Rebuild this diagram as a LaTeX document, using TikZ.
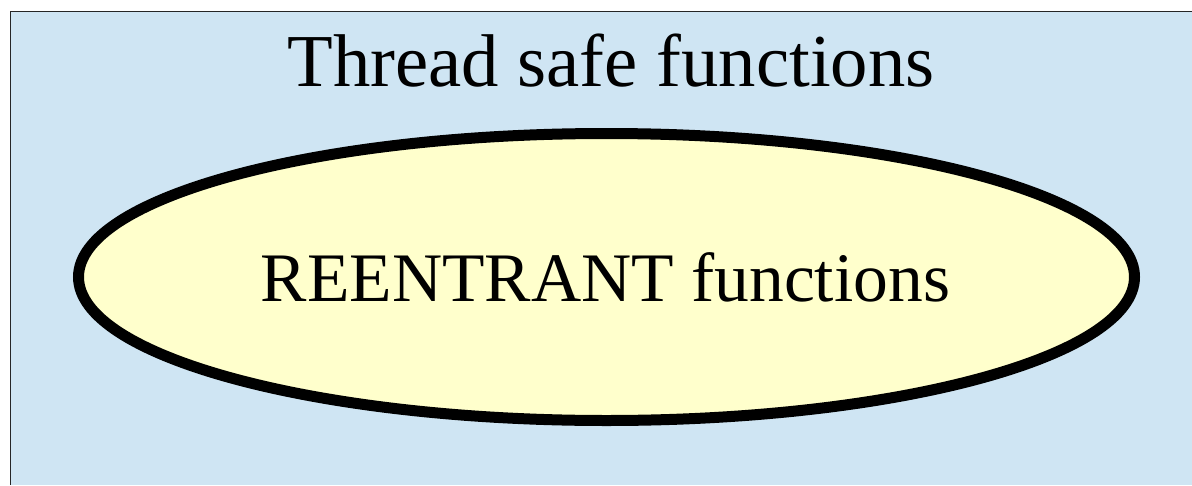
\documentclass[tikz,border=0pt]{standalone}
\usepackage{fontspec}
\setmainfont{Liberation Serif}
\usetikzlibrary{shapes.geometric}
\definecolor{bgblue}{RGB}{207,229,243}
\definecolor{ellyellow}{RGB}{255,255,204}
\tikzset{
  labeltext/.style={anchor=base, inner sep=0pt},
}
\begin{document}
\begin{tikzpicture}[x=1pt,y=-1pt]
\useasboundingbox (0,0) rectangle (1192,485);
\fill[bgblue] (10.5,11.5) rectangle (1192,485);
\draw[line width=1.3pt, black!85] (10.5,485) -- (10.5,11.5) -- (1192,11.5);
\node[labeltext, font=\fontsize{74.7}{80}\selectfont] (title) at (611,86) {Thread safe functions};
\node[ellipse, draw, line width=11pt, fill=ellyellow, minimum width=1056pt, minimum height=287pt, inner sep=0pt] (reent) at (606.5,277) {};
\node[labeltext, font=\fontsize{69.5}{75}\selectfont] (reenttext) at (605.5,301) {REENTRANT functions};
\end{tikzpicture}
\end{document}
